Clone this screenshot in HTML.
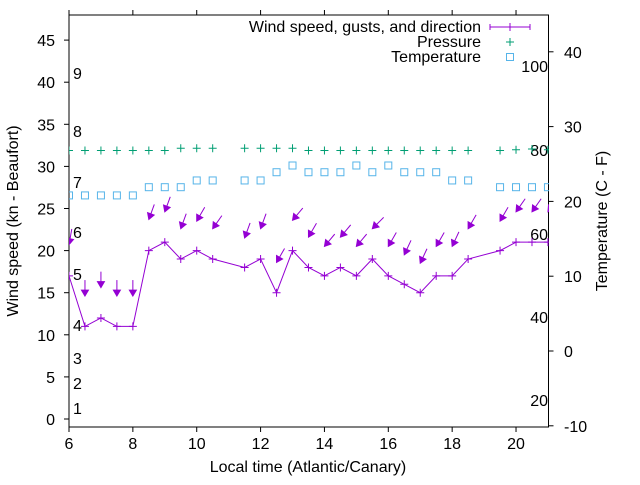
<!DOCTYPE html>
<html><head><meta charset="utf-8"><style>
body{margin:0;background:#fff}
svg{font-family:"Liberation Sans",sans-serif}
</style></head><body>
<svg id="c" width="640" height="480" viewBox="0 0 640 480">
<defs><clipPath id="pc"><rect x="69" y="15" width="480" height="412"/></clipPath></defs>
<g id="axes"></g>
<g id="plot" clip-path="url(#pc)"></g>
<g id="legend"></g>
</svg>
<script>
const times=[6,6.5,7,7.5,8,8.5,9,9.5,10,10.5,11.5,12,12.5,13,13.5,14,14.5,15,15.5,16,16.5,17,17.5,18,18.5,19.5,20,20.5,21];
const windSpeed=[17,11,12,11,11,20,21,19,20,19,18,19,15,20,18,17,18,17,19,17,16,15,17,17,19,20,21,21,21];
const gusts=[20.7,14.6,15.6,14.6,14.6,23.7,24.6,22.6,23.5,22.6,21.5,22.6,18.6,23.6,21.6,20.5,21.6,20.5,22.6,20.5,19.5,18.5,20.5,20.5,22.6,23.5,24.6,24.6,24.6];
const windDir=[10,0,0,0,0,20,20,20,30,35,20,20,30,40,30,40,40,40,45,30,25,25,30,25,30,30,35,35,35];
const pressure=[26.8,26.8,26.8,26.8,26.8,26.8,26.8,27.1,27.1,27.1,27.1,27.1,27.1,27.1,26.8,26.8,26.8,26.8,26.8,26.8,26.8,26.8,26.8,26.8,26.8,26.8,26.9,27.0,26.9];
const temperature=[20.8,20.8,20.8,20.8,20.8,21.9,21.9,21.9,22.8,22.8,22.8,22.8,23.9,24.8,23.9,23.9,23.9,24.8,23.9,24.8,23.9,23.9,23.9,22.8,22.8,21.9,21.9,21.9,21.9];
const xTicks=[6,8,10,12,14,16,18,20];
const yTicks=[0,5,10,15,20,25,30,35,40,45];
const y2Ticks=[-10,0,10,20,30,40];
const beaufort=[[1,408],[2,383],[3,358],[4,325],[5,274],[6,232],[7,182],[8,131],[9,73]];
const fahr=[[100,66],[80,150],[60,234],[40,317],[20,400]];

const X=t=>69+(t-6)*31.93;
const Y=v=>419-v*8.42;
const Y2=v=>351-v*7.48;
const FS=16;
const NS='http://www.w3.org/2000/svg';
function mk(tag,attrs,parent,txt){const e=document.createElementNS(NS,tag);for(const k in attrs)e.setAttribute(k,attrs[k]);if(txt!==undefined)e.textContent=txt;parent.appendChild(e);return e;}
const ax=document.getElementById('axes'),pl=document.getElementById('plot'),lg=document.getElementById('legend');
let e;
e=mk('rect',{x:69,y:15,width:479.5,height:412,fill:'none',stroke:'#000','stroke-width':1},ax);


xTicks.forEach(t=>{
 e=mk('path',{d:`M${X(t)},427v5M${X(t)},15v-5`,stroke:'#000'},ax);
 
 
 e=mk('text',{x:X(t),y:449,'text-anchor':'middle','font-size':FS},ax,t);
 
 
});
yTicks.forEach(v=>{
 e=mk('path',{d:`M69,${Y(v)}h-5`,stroke:'#000'},ax);
 
 
 e=mk('text',{x:55,y:Y(v)+6,'text-anchor':'end','font-size':FS},ax,v);
 
 
});
y2Ticks.forEach(v=>{
 e=mk('path',{d:`M548.5,${Y2(v)}h5`,stroke:'#000'},ax);
 
 
 e=mk('text',{x:564,y:Y2(v)+6,'font-size':FS},ax,v);
 
 
});
beaufort.forEach(b=>{
 e=mk('text',{x:73,y:b[1]+6,'font-size':FS},ax,b[0]);
 
 
});
fahr.forEach(f=>{
 e=mk('text',{x:548,y:f[1]+6,'text-anchor':'end','font-size':FS},ax,f[0]);
 
 
});
e=mk('text',{x:308,y:472,'text-anchor':'middle','font-size':FS},ax,'Local time (Atlantic/Canary)');


e=mk('text',{x:0,y:0,'text-anchor':'middle','font-size':FS,transform:'translate(18,221) rotate(-90)'},ax,'Wind speed (kn - Beaufort)');


e=mk('text',{x:0,y:0,'text-anchor':'middle','font-size':FS,transform:'translate(607,221) rotate(-90)'},ax,'Temperature (C - F)');



const purple='#9400d3',green='#009e73',blue='#56b4e9';
e=mk('polyline',{points:times.map((t,i)=>X(t)+','+Y(windSpeed[i])).join(' '),fill:'none',stroke:purple,'stroke-width':1},pl);


times.forEach((t,i)=>{
 const x=X(t),y=Y(windSpeed[i]);
 e=mk('path',{d:`M${x-4},${y}h8M${x},${y-4}v8`,stroke:purple},pl);
 
 
 const a=windDir[i]*Math.PI/180,L=16;
 const ux=-Math.sin(a),uy=Math.cos(a);
 const tx=x,ty=Y(gusts[i]);
 const sx=tx-ux*L,sy=ty-uy*L;
 const hl=6,hw=3.5;
 const bx=tx-ux*hl,by=ty-uy*hl;
 e=mk('g',{},pl);
 
 
 mk('line',{x1:sx,y1:sy,x2:bx,y2:by,stroke:purple},e);
 mk('polygon',{points:`${tx},${ty} ${bx-uy*hw},${by+ux*hw} ${bx+uy*hw},${by-ux*hw}`,fill:purple,stroke:purple},e);
 const py=Y2(pressure[i]);
 e=mk('path',{d:`M${x-4},${py}h8M${x},${py-4}v8`,stroke:green},pl);
 
 
 const ty2=Y2(temperature[i]);
 e=mk('rect',{x:x-3.5,y:ty2-3.5,width:7,height:7,fill:'none',stroke:blue},pl);
 
 
});
[['Wind speed, gusts, and direction',27],['Pressure',42],['Temperature',57]].forEach(l=>{
 e=mk('text',{x:481,y:l[1]+5,'text-anchor':'end','font-size':FS},lg,l[0]);
 
 
});
e=mk('path',{d:'M490,27h40M490,24v6M530,24v6M510,23v8',stroke:purple},lg);


e=mk('path',{d:'M506,42h8M510,38v8',stroke:green},lg);


e=mk('rect',{x:506.5,y:53.5,width:7,height:7,fill:'none',stroke:blue},lg);


</script>
</body></html>
